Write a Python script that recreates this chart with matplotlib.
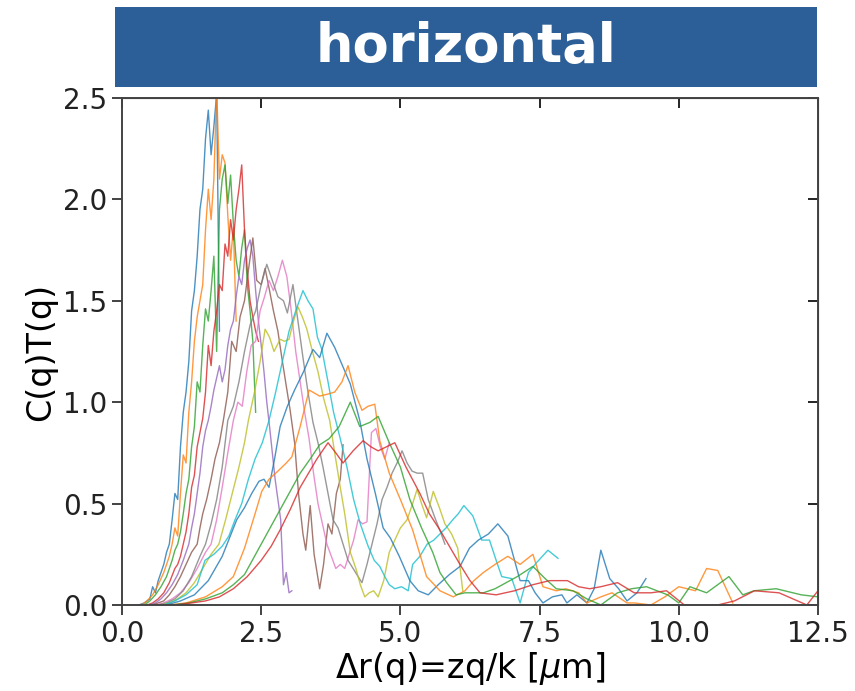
import matplotlib.pyplot as plt
from matplotlib.patches import Rectangle

# values, one pair of lists per curve
dr_1 = [0.30, 0.40, 0.50, 0.55, 0.60, 0.65, 0.70, 0.75, 0.80, 0.85, 0.90, 0.95, 1.00, 1.05, 1.10, 1.15, 1.20, 1.25, 1.30, 1.35,
        1.40, 1.45, 1.50, 1.55, 1.60, 1.65, 1.70, 1.75]
ct_1 = [0.00, 0.01, 0.03, 0.09, 0.06, 0.12, 0.16, 0.20, 0.26, 0.30, 0.42, 0.55, 0.52, 0.78, 0.95, 1.05, 1.20, 1.45, 1.55, 1.72,
        1.95, 2.05, 2.30, 2.44, 2.22, 2.36, 2.52, 1.35]

dr_2 = [0.35, 0.45, 0.55, 0.65, 0.75, 0.85, 0.90, 0.95, 1.00, 1.05, 1.10, 1.15, 1.20, 1.25, 1.30, 1.35, 1.40, 1.45, 1.50, 1.55,
        1.60, 1.65, 1.70, 1.75, 1.80, 1.85, 1.90, 1.95, 2.00, 2.05]
ct_2 = [0.00, 0.02, 0.05, 0.10, 0.16, 0.24, 0.30, 0.38, 0.34, 0.55, 0.74, 0.70, 0.95, 1.10, 1.30, 1.42, 1.50, 1.58, 1.85, 2.05,
        1.90, 2.10, 2.55, 2.10, 2.22, 2.18, 1.92, 1.70, 1.86, 1.40]

dr_3 = [0.40, 0.50, 0.60, 0.70, 0.80, 0.90, 0.95, 1.00, 1.05, 1.10, 1.15, 1.20, 1.25, 1.30, 1.35, 1.40, 1.45, 1.50, 1.55, 1.60,
        1.65, 1.70, 1.75, 1.80, 1.85, 1.90, 1.95, 2.00, 2.05, 2.10, 2.15, 2.20, 2.25, 2.30, 2.35, 2.40]
ct_3 = [0.00, 0.02, 0.05, 0.09, 0.14, 0.22, 0.27, 0.30, 0.36, 0.45, 0.55, 0.62, 0.78, 0.88, 1.10, 1.05, 1.28, 1.46, 1.40, 1.55,
        1.72, 1.25, 1.95, 2.10, 2.17, 1.98, 2.12, 1.88, 1.70, 1.62, 1.76, 1.85, 1.58, 1.45, 1.30, 0.95]

dr_4 = [0.45, 0.55, 0.65, 0.75, 0.85, 0.95, 1.00, 1.05, 1.10, 1.15, 1.20, 1.25, 1.30, 1.35, 1.40, 1.45, 1.50, 1.55, 1.60, 1.65,
        1.70, 1.75, 1.80, 1.85, 1.90, 1.95, 2.00, 2.05, 2.10, 2.15, 2.20, 2.25, 2.30, 2.35, 2.40, 2.45]
ct_4 = [0.00, 0.01, 0.03, 0.06, 0.11, 0.18, 0.20, 0.24, 0.30, 0.36, 0.45, 0.58, 0.64, 0.78, 0.85, 0.92, 1.05, 1.28, 1.18, 1.35,
        1.45, 1.58, 1.55, 1.78, 1.72, 1.90, 1.80, 1.95, 2.05, 2.17, 1.85, 1.65, 1.50, 1.42, 1.35, 1.30]

dr_5 = [0.50, 0.60, 0.70, 0.80, 0.90, 1.00, 1.10, 1.15, 1.20, 1.25, 1.30, 1.35, 1.40, 1.45, 1.50, 1.55, 1.60, 1.65, 1.70, 1.75,
        1.80, 1.85, 1.90, 1.95, 2.00, 2.05, 2.10, 2.15, 2.20, 2.25, 2.30, 2.35, 2.40, 2.45, 2.50, 2.55, 2.60, 2.65, 2.70, 2.75,
        2.80, 2.85, 2.90, 2.95, 3.00, 3.05]
ct_5 = [0.00, 0.01, 0.03, 0.06, 0.10, 0.15, 0.22, 0.26, 0.30, 0.38, 0.45, 0.55, 0.65, 0.78, 0.86, 0.91, 0.98, 1.06, 1.12, 1.18,
        1.10, 1.16, 1.28, 1.36, 1.40, 1.52, 1.62, 1.58, 1.70, 1.76, 1.80, 1.72, 1.55, 1.40, 1.28, 1.15, 1.00, 0.88, 0.75, 0.62,
        0.52, 0.42, 0.10, 0.16, 0.06, 0.07]

dr_6 = [0.55, 0.65, 0.75, 0.85, 0.95, 1.05, 1.15, 1.25, 1.35, 1.40, 1.45, 1.52, 1.60, 1.67, 1.75, 1.82, 1.90, 1.97, 2.05, 2.12,
        2.20, 2.27, 2.35, 2.42, 2.50, 2.57, 2.65, 2.72, 2.80, 2.87, 2.95, 3.02, 3.10, 3.17, 3.25, 3.30, 3.38, 3.45, 3.55, 3.62,
        3.70, 3.77, 3.85, 3.92, 3.97]
ct_6 = [0.00, 0.01, 0.02, 0.05, 0.09, 0.14, 0.20, 0.26, 0.30, 0.38, 0.45, 0.52, 0.62, 0.72, 0.80, 0.91, 1.05, 1.30, 1.25, 1.42,
        1.50, 1.65, 1.81, 1.60, 1.58, 1.66, 1.55, 1.45, 1.35, 1.22, 1.08, 0.96, 0.80, 0.55, 0.35, 0.27, 0.49, 0.25, 0.08, 0.20,
        0.40, 0.35, 0.55, 0.62, 0.79]

dr_7 = [0.60, 0.75, 0.90, 1.05, 1.20, 1.35, 1.50, 1.60, 1.70, 1.80, 1.90, 2.00, 2.08, 2.16, 2.24, 2.32, 2.40, 2.48, 2.56, 2.64,
        2.72, 2.80, 2.88, 2.96, 3.04, 3.12, 3.20, 3.28, 3.36, 3.44, 3.52, 3.60, 3.68, 3.76, 3.84, 3.92, 4.00, 4.08, 4.16, 4.24,
        4.32, 4.40, 4.48, 4.56, 4.64, 4.72, 4.80]
ct_7 = [0.00, 0.01, 0.03, 0.06, 0.11, 0.18, 0.26, 0.30, 0.42, 0.58, 0.75, 0.91, 1.00, 0.98, 1.15, 1.28, 1.30, 1.45, 1.52, 1.60,
        1.55, 1.62, 1.70, 1.62, 1.45, 1.25, 1.10, 0.95, 0.82, 0.65, 0.50, 0.40, 0.30, 0.24, 0.18, 0.20, 0.18, 0.25, 0.32, 0.42,
        0.40, 0.41, 0.85, 0.87, 0.78, 0.72, 0.80]

dr_8 = [0.65, 0.80, 0.95, 1.10, 1.25, 1.40, 1.50, 1.60, 1.70, 1.80, 1.90, 2.00, 2.10, 2.20, 2.30, 2.40, 2.50, 2.60, 2.70, 2.80,
        2.90, 2.97, 3.07, 3.16, 3.25, 3.34, 3.43, 3.52, 3.61, 3.70, 3.79, 3.88, 3.97, 4.06, 4.15, 4.24, 4.31, 4.40, 4.49, 4.58,
        4.67, 4.76, 4.85, 4.94, 5.03, 5.12, 5.21, 5.30, 5.40, 5.50, 5.62, 5.72, 5.80]
ct_8 = [0.00, 0.01, 0.03, 0.07, 0.14, 0.24, 0.30, 0.40, 0.52, 0.68, 0.91, 0.98, 1.10, 1.25, 1.38, 1.45, 1.58, 1.68, 1.60, 1.52,
        1.50, 1.44, 1.58, 1.40, 1.22, 1.05, 0.90, 0.80, 0.68, 0.55, 0.42, 0.38, 0.30, 0.22, 0.18, 0.14, 0.11, 0.20, 0.30, 0.40,
        0.52, 0.58, 0.65, 0.70, 0.76, 0.70, 0.66, 0.65, 0.65, 0.52, 0.43, 0.36, 0.30]

dr_9 = [0.70, 0.85, 1.00, 1.15, 1.30, 1.45, 1.60, 1.74, 1.86, 1.98, 2.10, 2.20, 2.27, 2.38, 2.48, 2.57, 2.65, 2.73, 2.84, 2.92,
        3.00, 3.08, 3.16, 3.24, 3.32, 3.42, 3.52, 3.62, 3.73, 3.82, 3.92, 4.00, 4.10, 4.20, 4.28, 4.36, 4.44, 4.52, 4.60, 4.70,
        4.80, 4.90, 5.00, 5.12, 5.22, 5.30, 5.38, 5.47, 5.59, 5.70, 5.80, 5.92, 6.03, 6.12]
ct_9 = [0.00, 0.01, 0.03, 0.06, 0.11, 0.18, 0.25, 0.30, 0.42, 0.55, 0.68, 0.80, 0.91, 1.05, 1.20, 1.36, 1.32, 1.25, 1.31, 1.30,
        1.31, 1.40, 1.47, 1.42, 1.36, 1.25, 1.15, 1.02, 0.91, 0.75, 0.58, 0.45, 0.26, 0.18, 0.10, 0.04, 0.06, 0.07, 0.04, 0.12,
        0.26, 0.32, 0.38, 0.42, 0.50, 0.57, 0.50, 0.43, 0.56, 0.48, 0.40, 0.35, 0.28, 0.07]

dr_10 = [0.75, 0.95, 1.15, 1.35, 1.49, 1.65, 1.80, 1.92, 2.03, 2.15, 2.27, 2.39, 2.52, 2.64, 2.76, 2.88, 3.00, 3.12, 3.25, 3.34,
         3.43, 3.51, 3.59, 3.70, 3.80, 3.92, 4.04, 4.16, 4.28, 4.42, 4.53, 4.63, 4.72, 4.80, 4.90, 5.02, 5.14, 5.22, 5.35, 5.48,
         5.60, 5.71, 5.82, 5.94, 6.04, 6.14, 6.30, 6.46, 6.60, 6.72, 6.82, 7.00, 7.15, 7.30, 7.45, 7.65, 7.83]
ct_10 = [0.00, 0.02, 0.05, 0.10, 0.22, 0.25, 0.29, 0.34, 0.42, 0.50, 0.62, 0.72, 0.80, 0.91, 1.05, 1.20, 1.35, 1.45, 1.55, 1.50,
         1.46, 1.32, 1.26, 1.10, 0.95, 0.82, 0.68, 0.52, 0.40, 0.29, 0.22, 0.19, 0.14, 0.10, 0.08, 0.09, 0.07, 0.20, 0.24, 0.30,
         0.32, 0.35, 0.38, 0.42, 0.45, 0.49, 0.44, 0.32, 0.32, 0.22, 0.14, 0.13, 0.01, 0.16, 0.21, 0.27, 0.23]

dr_11 = [0.80, 1.05, 1.30, 1.55, 1.80, 2.06, 2.20, 2.33, 2.46, 2.55, 2.64, 2.74, 2.84, 2.97, 3.10, 3.26, 3.43, 3.55, 3.68, 3.82,
         3.96, 4.10, 4.27, 4.40, 4.55, 4.69, 4.82, 4.98, 5.17, 5.32, 5.50, 5.68, 5.88, 6.07, 6.24, 6.40, 6.58, 6.75, 6.93, 7.15,
         7.30, 7.42, 7.56, 7.73, 7.90, 7.99, 8.17, 8.35, 8.48, 8.60, 8.76, 8.92, 9.07, 9.25, 9.41]
ct_11 = [0.00, 0.02, 0.05, 0.12, 0.24, 0.42, 0.48, 0.55, 0.61, 0.62, 0.58, 0.72, 0.88, 0.98, 1.06, 1.15, 1.26, 1.22, 1.34, 1.27,
         1.18, 1.09, 0.91, 0.72, 0.55, 0.38, 0.33, 0.24, 0.12, 0.07, 0.05, 0.10, 0.15, 0.19, 0.28, 0.32, 0.35, 0.40, 0.34, 0.12,
         0.12, 0.06, 0.01, 0.04, 0.05, 0.01, 0.05, 0.01, 0.08, 0.27, 0.13, 0.08, 0.02, 0.06, 0.13]

dr_12 = [0.85, 1.15, 1.50, 1.80, 2.00, 2.20, 2.39, 2.51, 2.64, 2.80, 2.95, 3.05, 3.20, 3.36, 3.55, 3.70, 3.82, 3.95, 4.06, 4.18,
         4.31, 4.42, 4.54, 4.63, 4.80, 5.00, 5.22, 5.47, 5.71, 5.95, 6.16, 6.32, 6.49, 6.70, 6.93, 7.15, 7.38, 7.56, 7.80, 7.97,
         8.20, 8.35, 8.60, 8.80, 9.07, 9.20, 9.50, 9.75, 10.00, 10.30, 10.50, 10.70, 10.97]
ct_12 = [0.00, 0.01, 0.04, 0.09, 0.14, 0.28, 0.45, 0.56, 0.62, 0.66, 0.70, 0.73, 0.88, 1.06, 1.03, 1.04, 1.05, 1.10, 1.18, 1.05,
         0.96, 0.98, 0.99, 0.81, 0.65, 0.52, 0.37, 0.14, 0.07, 0.04, 0.07, 0.12, 0.16, 0.20, 0.24, 0.20, 0.25, 0.09, 0.07, 0.08,
         0.06, 0.01, 0.04, 0.06, 0.01, 0.01, 0.00, 0.04, 0.09, 0.07, 0.18, 0.17, 0.01]

dr_13 = [0.90, 1.20, 1.50, 1.80, 2.00, 2.20, 2.40, 2.62, 2.84, 3.02, 3.20, 3.38, 3.55, 3.72, 3.90, 4.10, 4.27, 4.45, 4.60, 4.80,
         5.00, 5.17, 5.38, 5.58, 5.71, 5.83, 6.00, 6.16, 6.49, 6.70, 6.90, 7.10, 7.38, 7.60, 7.80, 8.10, 8.35, 8.60, 8.90, 9.15,
         9.42, 9.80, 10.00, 10.20, 10.50, 10.90, 11.15, 11.35, 11.75, 12.20, 12.50, 12.80]
ct_13 = [0.00, 0.01, 0.03, 0.06, 0.10, 0.15, 0.25, 0.36, 0.47, 0.56, 0.65, 0.72, 0.79, 0.82, 0.88, 1.00, 0.88, 0.90, 0.93, 0.80,
         0.68, 0.52, 0.38, 0.26, 0.16, 0.11, 0.05, 0.06, 0.06, 0.08, 0.11, 0.14, 0.19, 0.13, 0.08, 0.07, 0.03, 0.00, 0.06, 0.08,
         0.09, 0.05, 0.01, 0.09, 0.06, 0.14, 0.05, 0.07, 0.08, 0.05, 0.04, 0.04]

dr_14 = [0.95, 1.25, 1.50, 1.75, 2.00, 2.25, 2.50, 2.68, 2.84, 3.02, 3.20, 3.35, 3.50, 3.70, 3.84, 3.97, 4.15, 4.33, 4.47, 4.60,
         4.75, 4.90, 5.10, 5.35, 5.52, 5.71, 5.90, 6.07, 6.25, 6.43, 6.72, 7.05, 7.38, 7.68, 8.00, 8.20, 8.40, 8.60, 8.90, 9.20,
         9.50, 9.78, 10.10, 10.40, 10.70, 11.00, 11.36, 11.80, 12.30, 12.50, 12.70]
ct_14 = [0.00, 0.01, 0.02, 0.04, 0.08, 0.14, 0.22, 0.29, 0.37, 0.47, 0.58, 0.65, 0.72, 0.80, 0.75, 0.70, 0.76, 0.81, 0.78, 0.76,
         0.78, 0.80, 0.68, 0.55, 0.45, 0.37, 0.28, 0.20, 0.12, 0.06, 0.05, 0.07, 0.10, 0.12, 0.12, 0.09, 0.08, 0.09, 0.11, 0.06,
         0.06, 0.07, 0.00, 0.00, 0.00, 0.02, 0.07, 0.06, 0.00, 0.07, 0.12]

curves = [(dr_1, ct_1), (dr_2, ct_2), (dr_3, ct_3), (dr_4, ct_4), (dr_5, ct_5), (dr_6, ct_6), (dr_7, ct_7),
          (dr_8, ct_8), (dr_9, ct_9), (dr_10, ct_10), (dr_11, ct_11), (dr_12, ct_12), (dr_13, ct_13), (dr_14, ct_14)]

x_ticks = [0.0, 2.5, 5.0, 7.5, 10.0, 12.5]
y_ticks = [0.0, 0.5, 1.0, 1.5, 2.0, 2.5]

fig = plt.figure(figsize=(8.55, 6.91), dpi=100)
ax = fig.add_axes([0.1427, 0.1245, 0.8140, 0.7337])

for x, y in curves:
    ax.plot(x, y, lw=1.0, alpha=0.8)

ax.set_xlim(0, 12.5)
ax.set_ylim(0, 2.5)
ax.set_xticks(x_ticks)
ax.set_yticks(y_ticks)
ax.tick_params(labelsize=20, length=7, width=1.2, direction='out', colors='#222222')
for s in ax.spines.values():
    s.set_color('#444444')
    s.set_linewidth(1.4)

ax.set_xlabel(r'$\Delta$r(q)=zq/k [$\mu$m]', fontsize=24, labelpad=2)
ax.set_ylabel('C(q)T(q)', fontsize=24, labelpad=4)

# inward ticks on top and right
top = ax.secondary_xaxis('top')
top.set_xticks(x_ticks)
top.tick_params(direction='in', length=7, width=1.2, labeltop=False)
right = ax.secondary_yaxis('right')
right.set_yticks(y_ticks)
right.tick_params(direction='in', length=7, width=1.2, labelright=False)

# title banner
fig.patches.append(Rectangle((0.1345, 0.8741), 0.8211, 0.1158, transform=fig.transFigure,
                             facecolor='#2c5f97', edgecolor='none'))
fig.text(0.545, 0.932, 'horizontal', ha='center', va='center', color='white',
         fontsize=38, fontweight='bold')

fig.savefig('out.png', dpi=100)
